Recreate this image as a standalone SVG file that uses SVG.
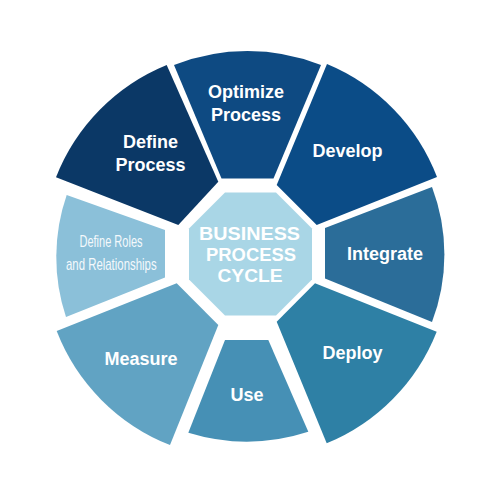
<svg xmlns="http://www.w3.org/2000/svg" width="500" height="500" viewBox="0 0 500 500">
  <style>
    .lbl { font-family: "Liberation Sans", Arial, sans-serif; font-weight: bold; font-size: 18px; fill: #ffffff; text-anchor: middle; }
    .narrow { font-family: "Liberation Sans Narrow", "Liberation Sans", Arial, sans-serif; font-weight: normal; font-size: 17px; fill: #f4f9fc; text-anchor: middle; }
    .ctr { font-family: "Liberation Sans", Arial, sans-serif; font-weight: bold; font-size: 19px; fill: #ffffff; text-anchor: middle; }
  </style>
  <rect x="0" y="0" width="500" height="500" fill="#ffffff"/>
  <g id="connectors"/>
  <g id="optimize-process">
    <path d="M174,65 A200,200 0 0 1 321,65 L273.5,178.5 L221.5,178.5 Z" fill="#0e4a82"/>
    <text class="lbl" x="246" y="98">Optimize</text>
    <text class="lbl" x="246" y="121">Process</text>
  </g>
  <g id="develop">
    <path d="M327,64 A200,200 0 0 1 437,177 L316.7,225 L276.7,185 Z" fill="#0b4c87"/>
    <text class="lbl" x="347.5" y="157">Develop</text>
  </g>
  <g id="integrate">
    <path d="M432,187 A190,190 0 0 1 432,322 L325,278.5 L325,228 Z" fill="#2b6d99"/>
    <text class="lbl" x="385" y="260">Integrate</text>
  </g>
  <g id="deploy">
    <path d="M436.7,331.7 A200,200 0 0 1 326.7,443.3 L276.7,321.7 L315,283.3 Z" fill="#2e80a5"/>
    <text class="lbl" x="352.5" y="359">Deploy</text>
  </g>
  <g id="use">
    <path d="M308.3,431.7 A200,200 0 0 1 188.3,432.7 L225,340 L268.3,340 Z" fill="#4690b5"/>
    <text class="lbl" x="247" y="401">Use</text>
  </g>
  <g id="measure">
    <path d="M170,445 A200,200 0 0 1 56.7,331 L176.7,283.3 L218.3,325 Z" fill="#61a3c3"/>
    <text class="lbl" x="141" y="364.5">Measure</text>
  </g>
  <g id="define-roles">
    <path d="M66,317 A190,190 0 0 1 66.7,195 L165,230 L165,277.5 Z" fill="#8bc0d9"/>
    <text class="narrow" x="111" y="247" textLength="63" lengthAdjust="spacingAndGlyphs">Define Roles</text>
    <text class="narrow" x="111.3" y="269.5" textLength="90.7" lengthAdjust="spacingAndGlyphs">and Relationships</text>
  </g>
  <g id="define-process">
    <path d="M56,177.3 A200,200 0 0 1 166.7,65 L218.3,181.7 L178.3,225 Z" fill="#0b3866"/>
    <text class="lbl" x="150.5" y="148">Define</text>
    <text class="lbl" x="150.5" y="170.5">Process</text>
  </g>
  <g id="center">
    <polygon points="225,192.5 276,192.5 312,228.5 312,279.5 276,315.5 225,315.5 189,279.5 189,228.5" fill="#a9d6e6"/>
    <text class="ctr" x="249.5" y="240" textLength="101" lengthAdjust="spacingAndGlyphs">BUSINESS</text>
    <text class="ctr" x="251" y="261" textLength="90" lengthAdjust="spacingAndGlyphs">PROCESS</text>
    <text class="ctr" x="250" y="282.3" textLength="65" lengthAdjust="spacingAndGlyphs">CYCLE</text>
  </g>
</svg>
